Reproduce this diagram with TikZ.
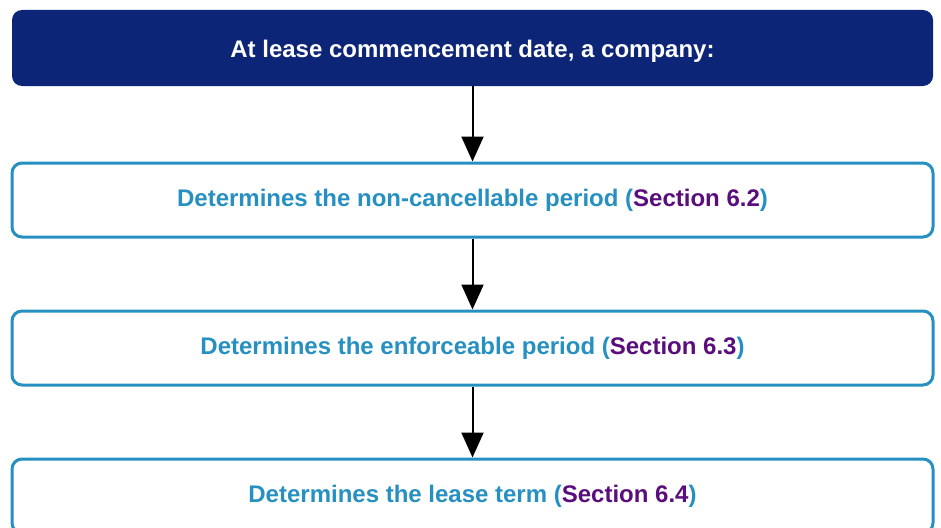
\documentclass[tikz,border=0pt]{standalone}
\usepackage{fontspec}
\setmainfont{Liberation Sans}
\usepackage{xcolor}
\usetikzlibrary{arrows.meta}
\definecolor{leasenavy}{HTML}{0C2577}
\definecolor{leaseblue}{HTML}{2690C1}
\definecolor{leasepurple}{HTML}{5A0E7C}

\begin{document}
\begin{tikzpicture}[x=1pt,y=1pt,
head/.style={fill=leasenavy,rounded corners=10pt,minimum width=921pt,minimum
	height=76pt,text=white,font=\fontsize{24}{28}\selectfont\bfseries},
stage/.style={draw=leaseblue,line width=3pt,fill=white,rounded corners=10pt,
	minimum width=921pt,minimum height=74pt,text=leaseblue,
	font=\fontsize{24}{28}\selectfont\bfseries},
link/.style={-{Triangle[length=25pt,width=22pt]},line width=2pt,black}]
	\useasboundingbox (0,0) rectangle (941,-527);
	\clip (0,0) rectangle (941,-527);
	\node[head] at (472.5,-48) (start) {\raisebox{-3pt}[\height][\depth]{At lease commencement date, a company:}};
	\node[stage] at (472.5,-200) (s1) {Determines the non-cancellable period (\textcolor{leasepurple}{Section 6.2})};
	\node[stage] at (472.5,-348) (s2) {Determines the enforceable period (\textcolor{leasepurple}{Section 6.3})};
	\node[stage] at (472.5,-496) (s3) {Determines the lease term (\textcolor{leasepurple}{Section 6.4})};

	\draw[link] (start) -- (s1);
	\draw[link] (s1) -- (s2);
	\draw[link] (s2) -- (s3);
\end{tikzpicture}
\end{document}
